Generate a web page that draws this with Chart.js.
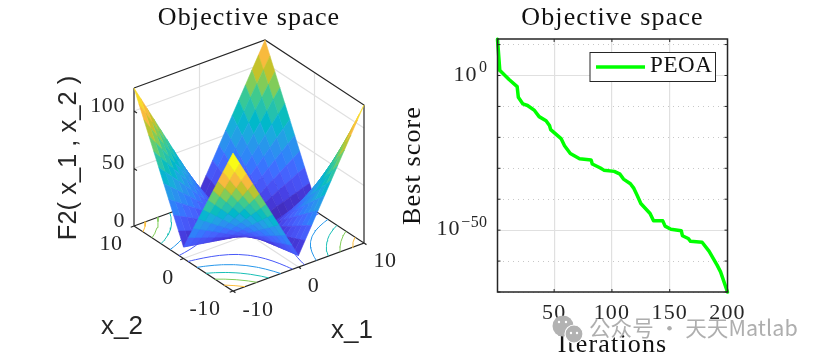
<!DOCTYPE html>
<html><head><meta charset="utf-8">
<script src="https://cdn.jsdelivr.net/npm/chart.js@4"></script>
<style>html,body{margin:0;padding:0;background:#fff;overflow:hidden}
canvas{position:absolute;top:0}</style></head>
<body>
<canvas id="left" width="498" height="362" style="left:0;width:498px;height:362px"></canvas>
<canvas id="right" width="425" height="362" style="left:400px;width:425px;height:362px"></canvas>
<script>
// ---------- data ----------
const x1Values = [-10,-9,-8,-7,-6,-5,-4,-3,-2,-1,0,1,2,3,4,5,6,7,8,9,10];
const x2Values = [-10,-9,-8,-7,-6,-5,-4,-3,-2,-1,0,1,2,3,4,5,6,7,8,9,10];
const f2Rows = [
[120,109,98,87,76,65,54,43,32,21,10,21,32,43,54,65,76,87,98,109,120],
[109,99,89,79,69,59,49,39,29,19,9,19,29,39,49,59,69,79,89,99,109],
[98,89,80,71,62,53,44,35,26,17,8,17,26,35,44,53,62,71,80,89,98],
[87,79,71,63,55,47,39,31,23,15,7,15,23,31,39,47,55,63,71,79,87],
[76,69,62,55,48,41,34,27,20,13,6,13,20,27,34,41,48,55,62,69,76],
[65,59,53,47,41,35,29,23,17,11,5,11,17,23,29,35,41,47,53,59,65],
[54,49,44,39,34,29,24,19,14,9,4,9,14,19,24,29,34,39,44,49,54],
[43,39,35,31,27,23,19,15,11,7,3,7,11,15,19,23,27,31,35,39,43],
[32,29,26,23,20,17,14,11,8,5,2,5,8,11,14,17,20,23,26,29,32],
[21,19,17,15,13,11,9,7,5,3,1,3,5,7,9,11,13,15,17,19,21],
[10,9,8,7,6,5,4,3,2,1,0,1,2,3,4,5,6,7,8,9,10],
[21,19,17,15,13,11,9,7,5,3,1,3,5,7,9,11,13,15,17,19,21],
[32,29,26,23,20,17,14,11,8,5,2,5,8,11,14,17,20,23,26,29,32],
[43,39,35,31,27,23,19,15,11,7,3,7,11,15,19,23,27,31,35,39,43],
[54,49,44,39,34,29,24,19,14,9,4,9,14,19,24,29,34,39,44,49,54],
[65,59,53,47,41,35,29,23,17,11,5,11,17,23,29,35,41,47,53,59,65],
[76,69,62,55,48,41,34,27,20,13,6,13,20,27,34,41,48,55,62,69,76],
[87,79,71,63,55,47,39,31,23,15,7,15,23,31,39,47,55,63,71,79,87],
[98,89,80,71,62,53,44,35,26,17,8,17,26,35,44,53,62,71,80,89,98],
[109,99,89,79,69,59,49,39,29,19,9,19,29,39,49,59,69,79,89,99,109],
[120,109,98,87,76,65,54,43,32,21,10,21,32,43,54,65,76,87,98,109,120]];
const contourLevels = [20,40,60,80,100];
const zTicks = [0,50,100];
const x1Ticks = [-10,0,10];
const x2Ticks = [-10,0,10];
const surfaceTitle = 'Objective space';
const surfaceZLabel = 'F2( x_1 , x_2 )';
const surfaceX1Label = 'x_1';
const surfaceX2Label = 'x_2';

const iterations = [1,3,4,11,18,19,23,27,33,37,43,46,47,56,59,64,72,82,83,90,93,102,107,110,116,119,122,125,133,136,144,146,151,160,161,166,168,178,184,191,194,200];
const bestScoreLog10 = [11.7,1.6,1.3,-1.3,-3.6,-7.0,-9.2,-9.7,-11.3,-13.3,-14.6,-16.2,-17.5,-20.4,-22.7,-25.2,-26.9,-27.3,-28.6,-29.9,-30.6,-31,-31.9,-33.5,-35,-36.5,-38.9,-41.4,-44.6,-47,-47,-48.7,-49.7,-50.2,-51.8,-52.7,-53.6,-53.9,-56.8,-61.3,-63.5,-70];
const iterationTicks = [50,100,150,200];
const scoreTickExponents = [10,0,-10,-20,-30,-40,-50,-60,-70];
const scoreLabelExponents = [0,-50];
const curveName = 'PEOA';
const watermark = '公众号 · 天天Matlab';

// ---------- styles ----------
const SERIF = '"Liberation Serif", serif';
const SANS = '"Liberation Sans", sans-serif';
const INK = '#262626';
const GRID = '#e0e0e0';
const PARULA = [[.2422,.1504,.6603],[.2504,.165,.7076],[.2578,.1818,.7511],[.2647,.1978,.7952],[.2706,.2147,.8364],[.2751,.2342,.871],[.2783,.2559,.8991],[.2803,.2782,.9221],[.2813,.3006,.9414],[.281,.3228,.9579],[.2795,.3447,.9717],[.276,.3667,.9829],[.2699,.3892,.9906],[.2602,.4123,.9952],[.244,.4358,.9988],[.2206,.4603,.9973],[.1963,.4847,.9892],[.1834,.5074,.9798],[.1786,.5289,.9682],[.1764,.5499,.952],[.1687,.5703,.9359],[.154,.5902,.9218],[.146,.6091,.9079],[.138,.6276,.8973],[.1248,.6459,.8883],[.1113,.6635,.8763],[.0952,.6798,.8598],[.0689,.6948,.8394],[.0297,.7082,.8163],[.0036,.7203,.7917],[.0067,.7312,.766],[.0433,.7411,.7394],[.0964,.75,.712],[.1408,.7584,.6842],[.1717,.767,.6554],[.1938,.7758,.6251],[.2161,.7843,.5923],[.247,.7918,.5567],[.2906,.7973,.5188],[.3406,.8008,.4789],[.3909,.8029,.4354],[.4456,.8024,.3909],[.5044,.7993,.348],[.5616,.7942,.3045],[.6174,.7876,.2612],[.672,.7793,.2227],[.7242,.7698,.191],[.7738,.7598,.1646],[.8203,.7498,.1535],[.8634,.7406,.1596],[.9035,.733,.1774],[.9393,.7288,.21],[.9728,.7298,.2394],[.9956,.7434,.2371],[.997,.7659,.2199],[.9952,.7893,.2028],[.9892,.8136,.1885],[.9786,.8386,.1766],[.9676,.8639,.1643],[.961,.889,.1537],[.9597,.9135,.1423],[.9628,.9373,.1265],[.9691,.9606,.1064],[.9769,.9839,.0805]];
const ZMAX = 120;
function parula(z){
  const c = PARULA[Math.min(63, Math.floor(z/ZMAX*64))];
  return 'rgb('+c.map(v=>Math.round(v*255)).join(',')+')';
}
// Oblique view of the 3D box, expressed in the hidden x/y scales of the left chart.
function project(a,b,z){
  return {x: 233 + 6.55*(a+10) - 4.95*(b+10),
          y: 291 - 2.4*(a+10) - 3.25*(b+10) - 1.15*z};
}
function lineSet(points,color,width,order,dash){
  return {type:'line',data:points,showLine:true,fill:false,
    borderColor:color,borderWidth:width,borderDash:dash||[],pointRadius:0,pointHoverRadius:0,
    tension:0,order:order,clip:false,spanGaps:false};
}
function seg(list){ // list of polylines in model coordinates, gaps in between
  const out=[];
  list.forEach(pl=>{pl.forEach(p=>out.push(project(p[0],p[1],p[2])));out.push({x:NaN,y:NaN});});
  return out;
}
const surfaceSets=[];
// back-to-front painter's order: lower order is painted later
for(let i=0;i<x1Values.length-1;i++){
  for(let j=0;j<x2Values.length-1;j++){
    const v=[[i,j],[i+1,j],[i+1,j+1],[i,j+1],[i,j]].map(([p,q])=>project(x1Values[p],x2Values[q],f2Rows[p][q]));
    const col=parula(f2Rows[i][j]);
    surfaceSets.push({type:'line',data:v,showLine:true,fill:'shape',backgroundColor:col,
      borderColor:col,borderWidth:0.6,pointRadius:0,pointHoverRadius:0,tension:0,order:i+j,clip:false});
  }
}
// contours of the table on the floor plane (marching squares over the typed table)
function contourSet(level){
  const segs=[];
  const cross=(p,q,r,s)=>{const a=f2Rows[p][q],b=f2Rows[r][s];const t=(level-a)/(b-a);
    return [x1Values[p]+t*(x1Values[r]-x1Values[p]),x2Values[q]+t*(x2Values[s]-x2Values[q]),0];};
  for(let i=0;i<20;i++)for(let j=0;j<20;j++){
    const e=[];
    const corners=[[i,j],[i+1,j],[i+1,j+1],[i,j+1]];
    for(let k=0;k<4;k++){
      const [p,q]=corners[k],[r,s]=corners[(k+1)%4];
      if((f2Rows[p][q]<level)!==(f2Rows[r][s]<level)) e.push(cross(p,q,r,s));
    }
    if(e.length>=2) segs.push([e[0],e[1]]);
    if(e.length===4) segs.push([e[2],e[3]]);
  }
  return lineSet(seg(segs),parula(level),1,90);
}
const contourSets=contourLevels.map(contourSet);
const gridSet=lineSet(seg([
  ...zTicks.filter(z=>z>0).map(z=>[[-10,10,z],[10,10,z],[10,-10,z]]),
  [[0,10,0],[0,10,120]],[[10,0,0],[10,0,120]],
  [[0,-10,0],[0,10,0]],[[-10,0,0],[10,0,0]]
]),GRID,1.2,110);
const boxSet=lineSet(seg([
  [[-10,10,120],[10,10,120],[10,-10,120],[10,-10,0]],
  [[-10,10,120],[-10,10,0],[-10,-10,0],[10,-10,0],[10,10,0],[-10,10,0]],
  ...zTicks.map(z=>[[-10,10,z],[-10,9.4,z]]),
  ...x1Ticks.map(a=>[[a,-10,0],[a,-10.5,0]]),
  ...x2Ticks.map(b=>[[-10,b,0],[-10.5,b,0]])
]),INK,1.2,100);

function text(ctx,str,x,y,font,color,align,spacing){
  ctx.save();ctx.font=font;ctx.fillStyle=color||INK;ctx.textAlign=align||'center';ctx.textBaseline='middle';
  ctx.letterSpacing=spacing||'0px';ctx.fillText(str,x,y);ctx.restore();
}
const surfaceLabels={id:'surfaceLabels',
  beforeDraw(c){c.ctx.letterSpacing='1.15px';},
  afterDraw(c){
    const ctx=c.ctx;ctx.letterSpacing='0px';
    const sx=c.scales.x,sy=c.scales.y,F='22px '+SERIF,P=(a,b,z)=>{const p=project(a,b,z);return [sx.getPixelForValue(p.x),sy.getPixelForValue(p.y)];};
    zTicks.forEach(z=>{const [x,y]=P(-10,10,z);text(ctx,String(z),x-9,y-5,F,INK,'right','0.6px');});
    const a1=[[25,19],[15,19],[21,18]];
    x1Ticks.forEach((v,k)=>{const [x,y]=P(v,-10,0);text(ctx,String(v),x+a1[k][0],y+a1[k][1],F,INK,'center','0.6px');});
    const a2=[[-28,18],[-15.5,19.5],[-23,18]];
    x2Ticks.forEach((v,k)=>{const [x,y]=P(-10,v,0);text(ctx,String(v),x+a2[k][0],y+a2[k][1],F,INK,'center','0.6px');});
    ctx.save();ctx.translate(69,158);ctx.rotate(-Math.PI/2);
    text(ctx,surfaceZLabel,0,0,'25.5px '+SANS,INK);ctx.restore();
    text(ctx,surfaceX2Label,122,327,'26px '+SANS,INK);
    text(ctx,surfaceX1Label,352,331,'26px '+SANS,INK);
  }};
new Chart(document.getElementById('left'),{
  type:'line',
  data:{datasets:[...surfaceSets,...contourSets,boxSet,gridSet]},
  options:{responsive:false,animation:false,events:[],layout:{padding:0},
    plugins:{legend:{display:false},tooltip:{enabled:false},
      title:{display:true,text:surfaceTitle,color:'#111',font:{family:SERIF,size:26,weight:'normal'},padding:{top:2.5,bottom:5.3}}},
    scales:{x:{type:'linear',display:false,min:0,max:498},
            y:{type:'linear',display:false,min:39,max:362,reverse:true}}},
  plugins:[surfaceLabels]
});

const convergenceDecor={id:'convergenceDecor',
  beforeDraw(c){c.ctx.letterSpacing='1.15px';},
  afterDatasetsDraw(c){
    const ctx=c.ctx,a=c.chartArea,sx=c.scales.x,sy=c.scales.y;
    ctx.save();ctx.letterSpacing='0px';
    ctx.strokeStyle=INK;ctx.lineWidth=1.5;ctx.strokeRect(a.left,a.top,a.right-a.left,a.bottom-a.top);
    ctx.lineWidth=1;ctx.beginPath();
    iterationTicks.forEach(v=>{const x=sx.getPixelForValue(v);ctx.moveTo(x,a.bottom);ctx.lineTo(x,a.bottom-3);ctx.moveTo(x,a.top);ctx.lineTo(x,a.top+3);});
    scoreTickExponents.forEach(e=>{const y=sy.getPixelForValue(Math.pow(10,e));ctx.moveTo(a.left,y);ctx.lineTo(a.left+3,y);ctx.moveTo(a.right,y);ctx.lineTo(a.right-3,y);});
    ctx.stroke();
    scoreLabelExponents.forEach(e=>{
      const y=sy.getPixelForValue(Math.pow(10,e));
      const exp=e<0?'\u2212'+Math.abs(e):String(e);
      ctx.font='16px '+SERIF;const w=ctx.measureText(exp).width;
      const r=a.left-10;
      text(ctx,exp,r,y-7.5,'16px '+SERIF,INK,'right','0.4px');
      text(ctx,'10',r-w-2,y-0.5,'22px '+SERIF,INK,'right','1px');
    });
    // legend
    const bx=190,by=52.5,bw=125.5,bh=29;
    ctx.fillStyle='#fff';ctx.fillRect(bx,by,bw,bh);
    ctx.strokeStyle=INK;ctx.lineWidth=1;ctx.strokeRect(bx,by,bw,bh);
    ctx.strokeStyle=c.data.datasets[0].borderColor;ctx.lineWidth=3.5;ctx.beginPath();ctx.moveTo(196,67);ctx.lineTo(245,67);ctx.stroke();
    text(ctx,c.data.datasets[0].label,250,66,'23px '+SERIF,'#111','left','0.6px');
    ctx.restore();
  },
  afterDraw(c){
    const ctx=c.ctx;ctx.save();ctx.letterSpacing='0px';
    ctx.fillStyle='#b2b2b2';
    ctx.beginPath();ctx.arc(163,326,10.5,0,7);ctx.fill();
    ctx.strokeStyle='#fff';ctx.lineWidth=1.2;
    ctx.beginPath();ctx.arc(174,334,9,0,7);ctx.fill();ctx.stroke();
    ctx.fillStyle='#fff';
    [[159,322],[166,322],[171,333],[177,333]].forEach(p=>{ctx.beginPath();ctx.arc(p[0],p[1],1.2,0,7);ctx.fill();});
    text(ctx,watermark,189,328,'21.5px "Noto Sans CJK SC"','rgba(165,165,165,0.9)','left','0.1px');
    ctx.restore();
  }};
new Chart(document.getElementById('right'),{
  type:'line',
  data:{datasets:[{label:curveName,data:iterations.map((x,i)=>({x:x,y:Math.pow(10,bestScoreLog10[i])})),
    borderColor:'#00ff00',borderWidth:3.5,pointRadius:0,tension:0,fill:false,clip:false,
    borderJoinStyle:'round',borderCapStyle:'round'}]},
  options:{responsive:false,animation:false,events:[],layout:{padding:0},
    plugins:{legend:{display:false},tooltip:{enabled:false},
      title:{display:true,text:surfaceTitle,color:'#111',font:{family:SERIF,size:26,weight:'normal'},padding:{top:2.5,bottom:5.3}}},
    scales:{
      x:{type:'linear',min:1,max:200,
        afterBuildTicks:s=>{s.ticks=iterationTicks.map(v=>({value:v}));},
        afterFit:s=>{s.height=70;},
        grid:{color:GRID,lineWidth:1.2,drawTicks:false,tickLength:0},border:{display:false},
        ticks:{color:INK,font:{family:SERIF,size:22},padding:8,maxRotation:0,autoSkip:false,callback:v=>String(v)},
        title:{display:true,text:'Iterations',color:'#111',font:{family:SERIF,size:26,lineHeight:1},padding:{top:0,bottom:4}}},
      y:{type:'logarithmic',min:1e-70,max:Math.pow(10,11.8),
        afterBuildTicks:s=>{s.ticks=scoreTickExponents.map(e=>({value:Math.pow(10,e),major:scoreLabelExponents.includes(e)}));},
        afterFit:s=>{s.width=97.5;},
        grid:{color:ctx=>ctx.tick&&ctx.tick.major?GRID:'#c8c8c8',lineWidth:1,drawTicks:false,tickLength:0},
        border:{display:false,dash:ctx=>ctx.tick&&ctx.tick.major?[]:[1,4]},
        ticks:{display:false,autoSkip:false},
        title:{display:true,text:'Best score',color:'#111',font:{family:SERIF,size:26,lineHeight:1},padding:0}},
      rightGutter:{type:'linear',position:'right',display:true,min:0,max:1,
        afterFit:s=>{s.width=97.5;},
        grid:{display:false,drawTicks:false},border:{display:false},ticks:{display:false},title:{display:false}}
    }},
  plugins:[convergenceDecor]
});
</script>
</body></html>
